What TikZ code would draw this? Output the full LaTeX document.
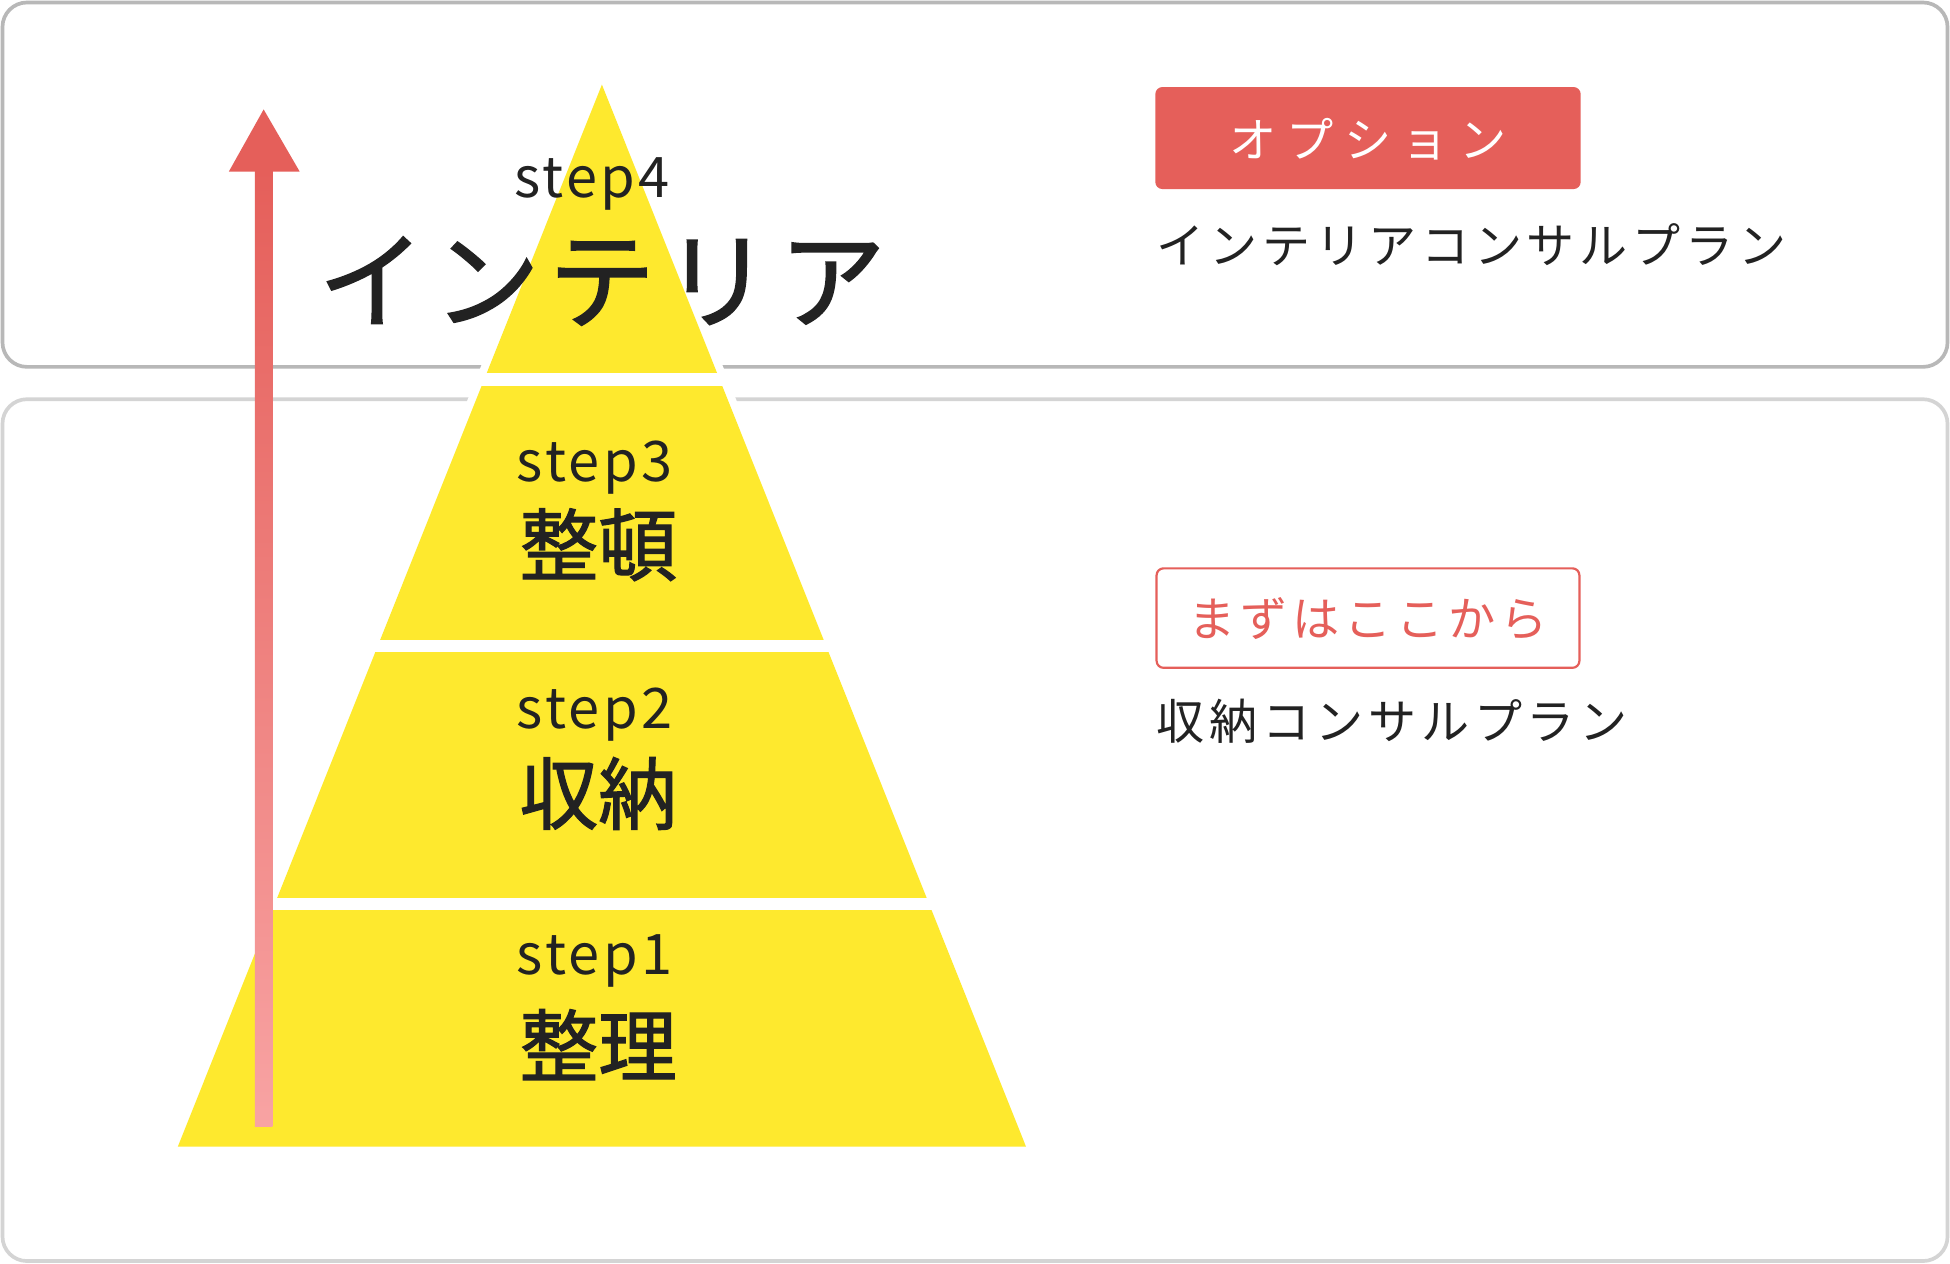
\documentclass[tikz,border=0pt]{standalone}
\usepackage{fontspec}
\setmainfont{Noto Sans CJK JP}
\newfontfamily\jpb{Noto Sans CJK JP}[FakeBold=1.5]
\newfontfamily\jpsp{Noto Sans CJK JP}[LetterSpace=10]
\newfontfamily\jpbadge{Noto Sans CJK JP}[LetterSpace=22]
\newfontfamily\stepf{Noto Sans CJK JP}[LetterSpace=6]
\definecolor{ylw}{HTML}{FEE92E}
\definecolor{rd}{HTML}{E55F5A}
\definecolor{pk}{HTML}{F8A3A3}
\definecolor{txt}{HTML}{222222}
\begin{document}
\begin{tikzpicture}[x=0.05cm,y=-0.05cm,
  box/.style={rounded corners=28, line width=4.2},
  steplbl/.style={text=txt,font=\stepf\fontsize{64}{64}\selectfont,inner sep=0},
  bigl/.style={text=txt,font=\jpb\fontsize{90}{90}\selectfont,inner sep=0},
  rtext/.style={text=txt,font=\jpsp\fontsize{55}{55}\selectfont,inner sep=0,anchor=west}]
\useasboundingbox (0,0) rectangle (1568,1016);
\fill[white] (0,0) rectangle (1568,1016);
\draw[box,draw=black!28] (2,2) rectangle (1566,295);
\draw[box,draw=black!17] (2,321) rectangle (1566,1014);
% pyramid
\filldraw[white,line width=18,line join=miter] (484,68) -- (825,922) -- (143,922) -- cycle;
\fill[ylw] (484,68) -- (825,922) -- (143,922) -- cycle;
\fill[white] (100,300) rectangle (900,310);
\fill[white] (100,515) rectangle (900,524);
\fill[white] (100,722) rectangle (900,732);
% arrow
\shade[bottom color=pk,top color=rd] (205,906) rectangle (219,136);
\fill[rd] (184,138) -- (241,138) -- (212,88) -- cycle;
% texts
\node[steplbl] (s4) at (476,148) {step4};
\node[bigl,font=\jpb\fontsize{122}{122}\selectfont\addfontfeature{LetterSpace=8}] (l4) at (484,226) {インテリア};
\node[steplbl] (s3) at (478,376) {step3};
\node[bigl] (l3) at (481,438) {整頓};
\node[steplbl] (s2) at (478,575) {step2};
\node[bigl] (l2) at (481,638) {収納};
\node[steplbl] (s1) at (478,773) {step1};
\node[bigl] (l1) at (481,840) {整理};
% right
\fill[rd,rounded corners=8] (929,70) rectangle (1271,152);
\node[text=white,font=\jpbadge\fontsize{54}{54}\selectfont,inner sep=0] (b1) at (1100,112) {オプション};
\node[rtext] (r1) at (930,197) {インテリアコンサルプラン};
\draw[rd,line width=2.5,rounded corners=8] (930,457) rectangle (1270,537);
\node[text=rd,font=\jpsp\fontsize{54}{54}\selectfont,inner sep=0] (b2) at (1100,497) {まずはここから};
\node[rtext] (r2) at (930,580) {収納コンサルプラン};
\end{tikzpicture}
\end{document}
